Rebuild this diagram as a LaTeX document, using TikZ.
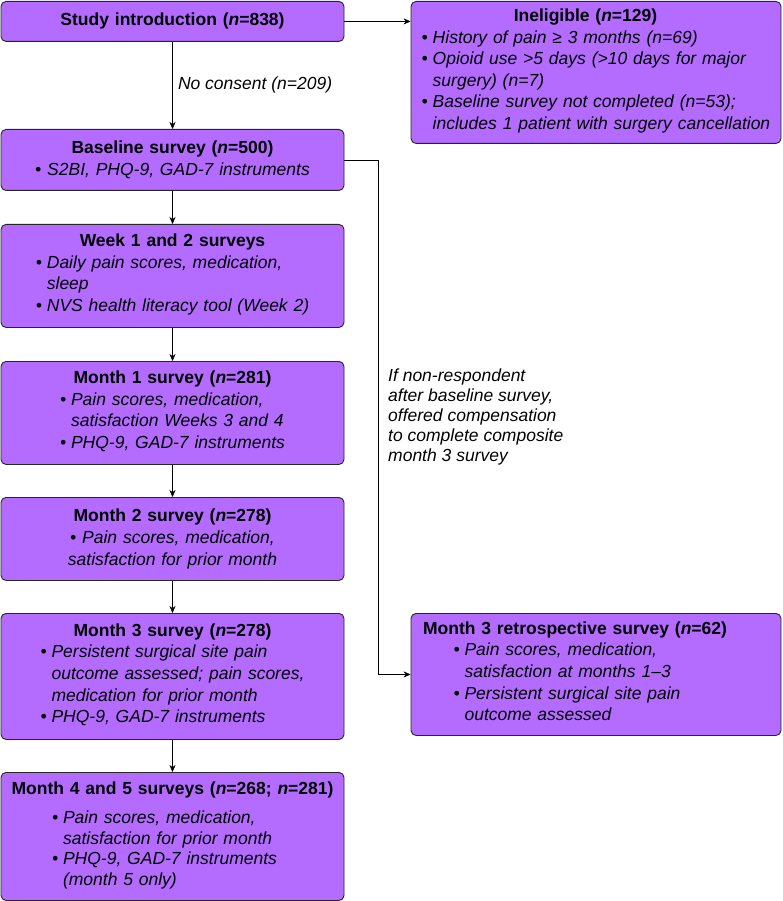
\documentclass[tikz,border=0pt]{standalone}
\usepackage{fontspec}
\setmainfont{Liberation Sans}
\usetikzlibrary{arrows.meta,positioning}
\definecolor{boxfill}{HTML}{B36CFF}
\definecolor{boxline}{HTML}{262626}
\newcommand{\hd}[1]{{\bfseries #1}}
\newcommand{\nn}{\textit{n}}
\newcommand{\bul}[1]{\begin{tabular}[t]{@{}l@{\hspace{.28em}}l@{}}#1\end{tabular}}
\tikzset{>={Stealth[length=7pt,width=6pt]},line width=.8pt,
  every node/.style={font=\fontsize{17.5}{21.6}\selectfont},
  stage/.style={draw=boxline,fill=boxfill,rounded corners=5pt,line width=.9pt,
    text width=331pt,inner xsep=6pt,inner ysep=2pt,align=center,anchor=north},
  side/.style={stage,text width=358pt},
  flow/.style={->,draw=black},
  note/.style={font=\fontsize{17.5}{20}\selectfont\itshape,align=left,inner sep=0pt}}

\begin{document}
\begin{tikzpicture}[x=1pt,y=1pt]
\useasboundingbox (0,0) rectangle (782,-901);
% main column of surveys, exclusions and the retrospective survey on the right
\node[stage,minimum height=40pt] (intro) at (172.5,-1) {\hd{Study introduction (\nn=838)}};
\node[side,minimum height=142pt] (inelig) at (596,-1) {\hspace*{-21pt}\hd{Ineligible (\nn=129)}\\
  {\itshape\bul{\textbullet & History of pain ≥ 3 months (n=69)\\
  \textbullet & Opioid use >5 days (>10 days for major\\ & surgery) (n=7)\\
  \textbullet & Baseline survey not completed (n=53);\\ & includes 1 patient with surgery cancellation}}};
\node[stage,minimum height=61pt] (base) at (172.5,-129) {\hd{Baseline survey (\nn=500)}\\
  \itshape\textbullet\ S2BI, PHQ-9, GAD-7 instruments};
\node[stage,minimum height=103pt] (wk12) at (172.5,-224) {\hd{Week 1 and 2 surveys}\\
  {\itshape\bul{\textbullet & Daily pain scores, medication,\\ & sleep\\
  \textbullet & NVS health literacy tool (Week 2)}}};
\node[stage,minimum height=103pt] (m1) at (172.5,-361) {\hd{Month 1 survey (\nn=281)}\\
  {\itshape\bul{\textbullet & Pain scores, medication,\\ & satisfaction Weeks 3 and 4\\
  \textbullet & PHQ-9, GAD-7 instruments}}};
\node[stage,minimum height=83pt] (m2) at (172.5,-497) {\hd{Month 2 survey (\nn=278)}\\
  \itshape\textbullet\ Pain scores, medication,\\ satisfaction for prior month};
\node[stage,minimum height=126pt] (m3) at (172.5,-613) {\hd{Month 3 survey (\nn=278)}\\
  {\itshape\bul{\textbullet & Persistent surgical site pain\\ & outcome assessed; pain scores,\\
  & medication for prior month\\ \textbullet & PHQ-9, GAD-7 instruments}}};
\node[stage,minimum height=128pt] (m45) at (172.5,-772) {\hd{Month 4 and 5 surveys (\nn=268; \nn=281)}\\[8pt]
  \hspace*{-16pt}{\fontsize{17.5}{20.5}\selectfont\itshape\bul{\textbullet & Pain scores, medication,\\ & satisfaction for prior month\\
  \textbullet & PHQ-9, GAD-7 instruments\\ & (month 5 only)}}};
\node[side,minimum height=122pt] (retro) at (596,-613) {\hspace*{-42pt}\hd{Month 3 retrospective survey (\nn=62)}\\
  \hspace*{-58pt}{\itshape\bul{\textbullet & Pain scores, medication,\\ & satisfaction at months 1–3\\
  \textbullet & Persistent surgical site pain\\ & outcome assessed}}};
\node[note,anchor=north west] (offer) at (388,-369) {If non-respondent\\after baseline survey,\\offered compensation\\to complete composite\\month 3 survey};

\draw[flow] (intro) -- (base) node[midway,right=2pt,font=\fontsize{17.5}{20}\selectfont\itshape] {No consent (n=209)};
\draw[flow] (intro.east) -- (intro.east -| inelig.west);
\draw[flow] (base) -- (wk12);
\draw[flow] (wk12) -- (m1);
\draw[flow] (m1) -- (m2);
\draw[flow] (m2) -- (m3);
\draw[flow] (m3) -- (m45);
\draw[flow] (base.east) -- ++(34,0) |- (retro.west);
\end{tikzpicture}
\end{document}
